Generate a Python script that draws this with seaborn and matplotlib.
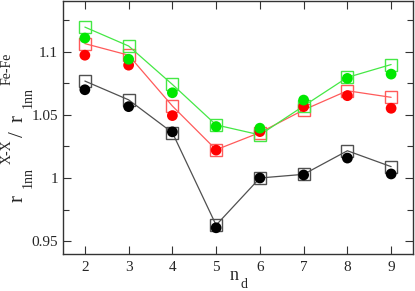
import matplotlib
matplotlib.use("Agg")
import matplotlib.pyplot as plt
import seaborn as sns
import pandas as pd
from matplotlib.ticker import MultipleLocator, FuncFormatter

nd = [2, 3, 4, 5, 6, 7, 8, 9]
black_circ = [1.070, 1.0566, 1.0366, 0.9605, 1.000, 1.0024, 1.0158, 1.0032]
black_sq = [1.0769, 1.062, 1.036, 0.9626, 1.000, 1.0029, 1.0216, 1.009]
red_circ = [1.0974, 1.0895, 1.0495, 1.0221, 1.0368, 1.0566, 1.0653, 1.0553]
red_sq = [1.1066, 1.0974, 1.0571, 1.0224, 1.036, 1.054, 1.0692, 1.064]
green_circ = [1.111, 1.0942, 1.0676, 1.0408, 1.0395, 1.0618, 1.079, 1.0824]
green_sq = [1.1197, 1.1047, 1.0742, 1.0421, 1.0342, 1.0571, 1.0798, 1.090]

sns.set_style("ticks")
plt.rcParams['font.family'] = ['Liberation Serif', 'DejaVu Serif']

W, H = 415, 291
fig = plt.figure(figsize=(W / 100, H / 100), dpi=100)
ax = fig.add_axes([63 / W, 1 - 254 / H, 350 / W, 253.5 / H])

series = [
    (black_sq, black_circ, '#505050', 'black'),
    (red_sq, red_circ, '#ff5a5a', '#ff0000'),
    (green_sq, green_circ, '#45e845', '#00e800'),
]
for sq, circ, lc, cc in series:
    df_sq = pd.DataFrame({'nd': nd, 'val': sq})
    df_c = pd.DataFrame({'nd': nd, 'val': circ})
    sns.lineplot(data=df_sq, x='nd', y='val', ax=ax, color=lc, lw=0.9,
                 marker='s', markersize=9.2, markerfacecolor='none',
                 markeredgecolor=lc, markeredgewidth=1.0)
    sns.scatterplot(data=df_c, x='nd', y='val', ax=ax, color=cc, s=60,
                    edgecolor='none', zorder=5)

ax.set_xlim(1.5, 9.5)
ax.set_ylim(0.9397, 1.1408)
ax.set_xticks(nd)
ax.yaxis.set_major_locator(MultipleLocator(0.05))
ax.yaxis.set_minor_locator(MultipleLocator(0.025))
ax.yaxis.set_major_formatter(FuncFormatter(lambda v, p: '%g' % round(v, 3)))
ax.tick_params(direction='in', which='both', top=True, right=True,
               labelsize=11, width=0.8, color='#333333')
ax.tick_params(which='major', length=6)
ax.tick_params(which='minor', length=4)
ax.tick_params(axis='x', pad=5)
for s in ax.spines.values():
    s.set_linewidth(1.0)
    s.set_color('#333333')
ax.set_xlabel('')
ax.set_ylabel('')

# x label n_d
fig.text(230 / W, 1 - 280 / H, 'n', fontsize=13, ha='left', va='baseline')
fig.text(240 / W, 1 - 288 / H, 'd', fontsize=10, ha='left', va='baseline')

# y label r_1nn^{X-X} / r_1nn^{Fe-Fe}
def ytxt(xb, ystart, s, fs):
    fig.text(xb / W, 1 - ystart / H, s, fontsize=fs, rotation=90,
             rotation_mode='anchor', ha='left', va='baseline')

ytxt(23, 202, 'r', 15)
ytxt(32, 188, '1nn', 10)
ytxt(10.5, 164, 'X-X', 10)
ytxt(23, 137, '/', 15)
ytxt(23, 122, 'r', 15)
ytxt(32, 108, '1nn', 10)
ytxt(11, 85, 'Fe-Fe', 10)

fig.savefig('out.png', dpi=100)
